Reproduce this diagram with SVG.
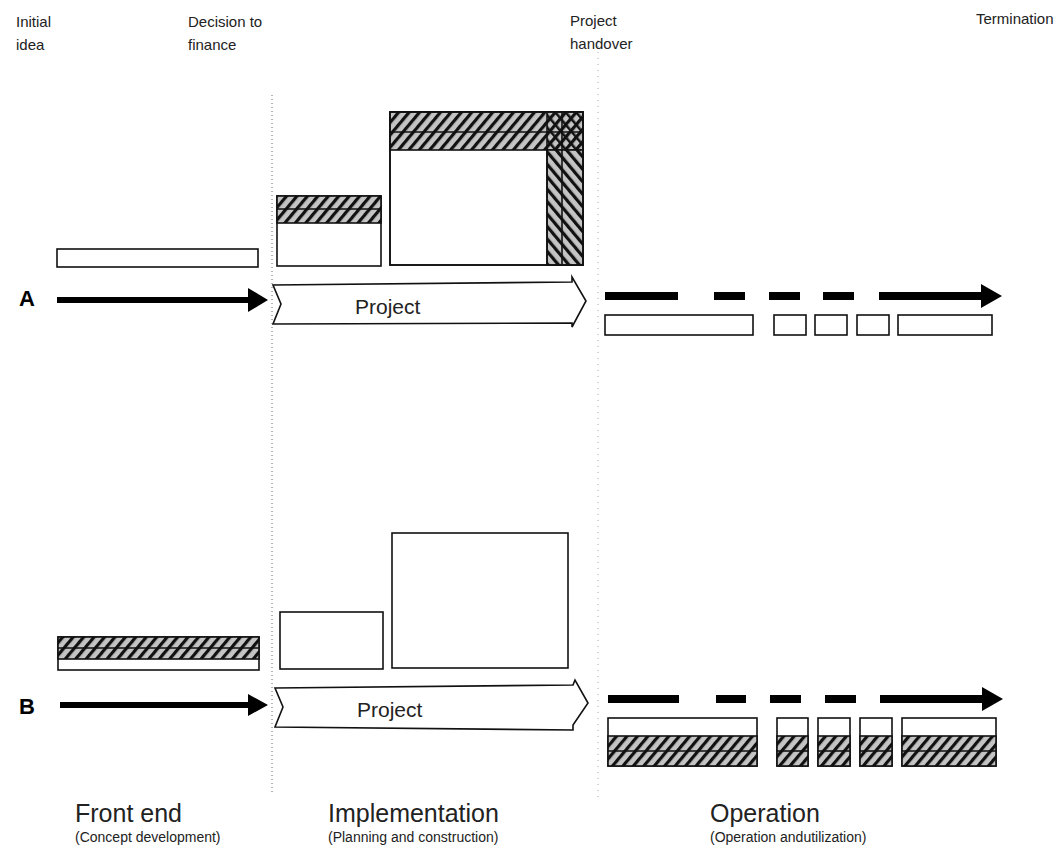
<svg xmlns="http://www.w3.org/2000/svg" width="1060" height="864" viewBox="0 0 1060 864">
<defs>
<pattern id="hf" width="8" height="8" patternUnits="userSpaceOnUse" patternTransform="rotate(40)">
<rect width="8" height="8" fill="#c4c4c4"/>
<rect x="0" y="0" width="3.2" height="8" fill="#111"/>
</pattern>
<pattern id="hb" width="8" height="8" patternUnits="userSpaceOnUse" patternTransform="rotate(-40)">
<rect width="8" height="8" fill="#c4c4c4"/>
<rect x="0" y="0" width="3.2" height="8" fill="#111"/>
</pattern>
<pattern id="hbt" width="8" height="8" patternUnits="userSpaceOnUse" patternTransform="rotate(-40)">
<rect x="0" y="0" width="2.5" height="8" fill="#111"/>
</pattern>
</defs>
<style>
.t{font-family:"Liberation Sans",Arial,sans-serif;fill:#222}
.top{font-size:15px}
.big{font-size:25px}
.sub{font-size:14px}
.lab{font-size:22px;font-weight:bold;fill:#000}
.proj{font-size:21px}
.box{fill:#fff;stroke:#111;stroke-width:1.6}
.hf{fill:url(#hf);stroke:#111;stroke-width:1.6}
.hb{fill:url(#hb);stroke:#111;stroke-width:1.6}
.ln{stroke:#111;stroke-width:1.6;fill:none}
.chev{fill:#fff;stroke:#111;stroke-width:1.6;stroke-linejoin:miter}
.dot{stroke:#666;stroke-width:1;stroke-dasharray:1 3;fill:none}
.dot2{stroke:#aaa;stroke-width:1;stroke-dasharray:1 5;fill:none}
.bar{fill:#000}
</style>
<rect width="1060" height="864" fill="#fff"/>

<g id="guides">
<line class="dot" x1="272" y1="95" x2="272" y2="795"/>
<line class="dot2" x1="598" y1="40" x2="598" y2="800"/>
</g>

<g id="milestones">
<text class="t top" x="16" y="27">Initial</text>
<text class="t top" x="16" y="50">idea</text>
<text class="t top" x="188" y="27">Decision to</text>
<text class="t top" x="188" y="50">finance</text>
<text class="t top" x="570" y="26">Project</text>
<text class="t top" x="570" y="49">handover</text>
<text class="t top" x="976" y="24">Termination</text>
</g>

<g id="labelA"><text class="t lab" x="19" y="306">A</text></g>
<g id="labelB"><text class="t lab" x="19" y="714">B</text></g>

<g id="A-frontend"><rect class="box" x="57" y="249" width="201" height="18"/></g>
<g id="A-impl-small">
<rect class="box" x="277" y="196" width="104" height="70"/>
<rect class="hf" x="277" y="196" width="104" height="27"/>
<line class="ln" x1="277" y1="209" x2="381" y2="209"/>
</g>
<g id="A-impl-large">
<rect class="box" x="390" y="112" width="193" height="153"/>
<rect class="hf" x="390" y="112" width="193" height="38"/>
<line class="ln" x1="390" y1="132" x2="583" y2="132"/>
<rect x="547" y="112" width="36" height="38" fill="url(#hbt)"/>
<rect class="hb" x="547" y="150" width="36" height="115"/>
<line class="ln" x1="547" y1="112" x2="547" y2="265"/>
<line class="ln" x1="562" y1="112" x2="562" y2="265"/>
<rect x="390" y="112" width="193" height="153" fill="none" stroke="#111" stroke-width="1.6"/>
</g>
<g id="A-project">
<polygon class="chev" points="273,285 572,282 572,277 586,301 572,327 572,323 273,324 281,304"/>
<text class="t proj" x="355" y="314">Project</text>
</g>
<g id="A-operation">
<rect class="box" x="605" y="315" width="148" height="20"/>
<rect class="box" x="774" y="315" width="32" height="20"/>
<rect class="box" x="815" y="315" width="32" height="20"/>
<rect class="box" x="857" y="315" width="32" height="20"/>
<rect class="box" x="898" y="315" width="94" height="20"/>
</g>

<g id="B-frontend">
<rect class="box" x="58" y="637" width="201" height="33"/>
<rect class="hf" x="58" y="637" width="201" height="22"/>
<line class="ln" x1="58" y1="648" x2="259" y2="648"/>
</g>
<g id="B-impl-small"><rect class="box" x="280" y="612" width="103" height="57"/></g>
<g id="B-impl-large"><rect class="box" x="392" y="533" width="176" height="135"/></g>
<g id="B-project">
<polygon class="chev" points="275,688 573,685 575,680 588,703 573,725 573,730 275,727 283,707"/>
<text class="t proj" x="357" y="717">Project</text>
</g>
<g id="B-operation">
<rect class="box" x="608" y="718" width="149" height="48"/>
<rect class="hf" x="608" y="736" width="149" height="30"/>
<line class="ln" x1="608" y1="751" x2="757" y2="751"/>
<rect class="box" x="777" y="718" width="31" height="48"/>
<rect class="hf" x="777" y="736" width="31" height="30"/>
<line class="ln" x1="777" y1="751" x2="808" y2="751"/>
<rect class="box" x="818" y="718" width="32" height="48"/>
<rect class="hf" x="818" y="736" width="32" height="30"/>
<line class="ln" x1="818" y1="751" x2="850" y2="751"/>
<rect class="box" x="860" y="718" width="32" height="48"/>
<rect class="hf" x="860" y="736" width="32" height="30"/>
<line class="ln" x1="860" y1="751" x2="892" y2="751"/>
<rect class="box" x="902" y="718" width="94" height="48"/>
<rect class="hf" x="902" y="736" width="94" height="30"/>
<line class="ln" x1="902" y1="751" x2="996" y2="751"/>
</g>

<g id="connectors">
<polygon class="bar" points="57,297 248,297 248,288 268,300 248,312 248,303 57,303"/>
<polygon class="bar" points="60,702 248,702 248,694 268,705 248,716 248,708 60,708"/>
<rect class="bar" x="605" y="292" width="73" height="8"/>
<rect class="bar" x="714" y="292" width="31" height="8"/>
<rect class="bar" x="769" y="292" width="31" height="8"/>
<rect class="bar" x="823" y="292" width="31" height="8"/>
<polygon class="bar" points="879,292 981,292 981,284 1002,296 981,308 981,300 879,300"/>
<rect class="bar" x="608" y="695" width="71" height="8"/>
<rect class="bar" x="716" y="695" width="30" height="8"/>
<rect class="bar" x="770" y="695" width="31" height="8"/>
<rect class="bar" x="825" y="695" width="31" height="8"/>
<polygon class="bar" points="880,695 982,695 982,687 1003,699 982,711 982,703 880,703"/>
</g>

<g id="phases">
<text class="t big" x="75" y="822">Front end</text>
<text class="t sub" x="75" y="842">(Concept development)</text>
<text class="t big" x="328" y="822">Implementation</text>
<text class="t sub" x="328" y="842">(Planning and construction)</text>
<text class="t big" x="710" y="822">Operation</text>
<text class="t sub" x="710" y="842">(Operation andutilization)</text>
</g>
</svg>
